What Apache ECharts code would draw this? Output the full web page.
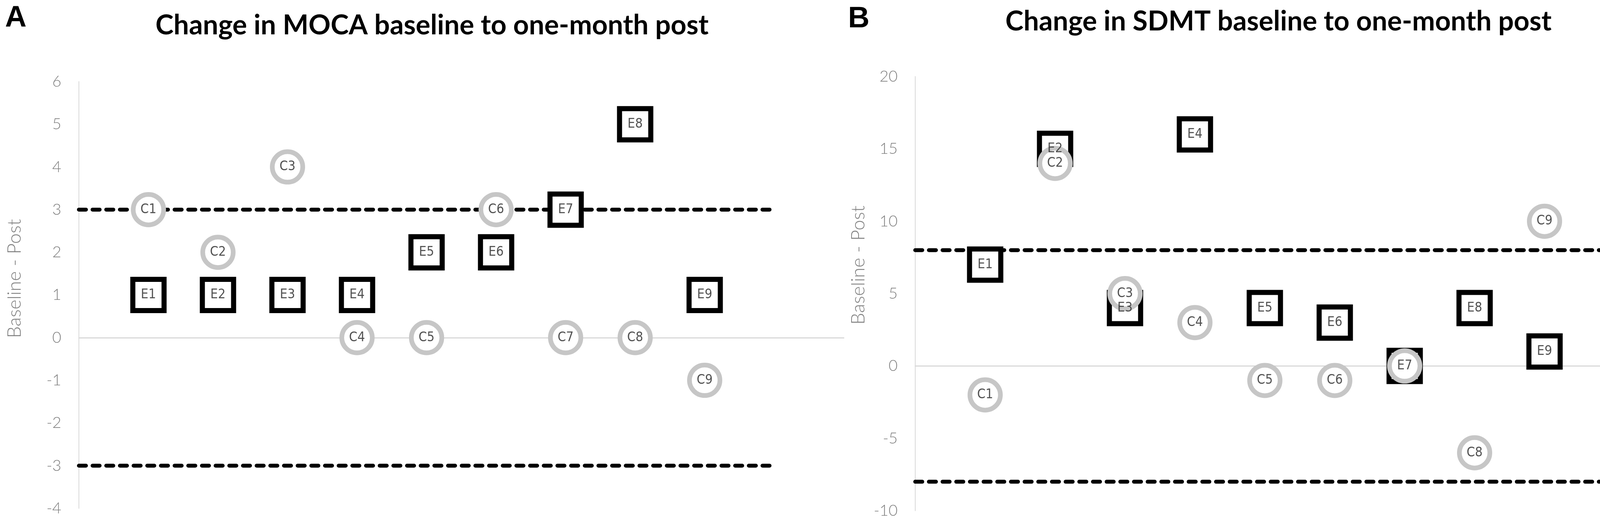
<!DOCTYPE html>
<html>
<head>
<meta charset="utf-8">
<script src="https://cdn.jsdelivr.net/npm/echarts@6/dist/echarts.min.js"></script>
<style>
  html, body { margin: 0; padding: 0; background: #fff; }
  #chart { width: 4317px; height: 1337px; }
</style>
</head>
<body>
<div id="chart"></div>
<script>
// participant index on the x axis (1..9)
const subjects = [1, 2, 3, 4, 5, 6, 7, 8, 9]
const eLabels = ['E1', 'E2', 'E3', 'E4', 'E5', 'E6', 'E7', 'E8', 'E9']
const cLabels = ['C1', 'C2', 'C3', 'C4', 'C5', 'C6', 'C7', 'C8', 'C9']

// MOCA: baseline - post
const mocaE = [1, 1, 1, 1, 2, 2, 3, 5, 1]
const mocaC = [3, 2, 4, 0, 0, 3, 0, 0, -1]
const mocaLimit = 3
const mocaTicks = { min: -4, max: 6, interval: 1 }

// SDMT: baseline - post
const sdmtE = [7, 15, 4, 16, 4, 3, 0, 4, 1]
const sdmtC = [-2, 14, 5, 3, -1, -1, 0, -6, 10]
const sdmtLimit = 8
const sdmtTicks = { min: -10, max: 20, interval: 5 }
// C7 sits exactly under E7 in panel B, only the E7 label shows
const sdmtHiddenC = ['C7']

const limitSpan = [0, 10]
const xRange = { min: 0, max: 11, interval: 1 }

const titles = ['Change in MOCA baseline to one-month post', 'Change in SDMT baseline to one-month post']
const panelLetters = ['A', 'B']
const axisName = 'Baseline - Post'

const light = 'Lato'
const labelFont = 'Liberation Sans Narrow, DejaVu Sans Condensed, sans-serif'

const pts = (xs, ys) => xs.map((x, i) => [x, ys[i]])

// dashed +/- limit lines
function limitSeries(idx, v) {
  return [v, -v].map(val => ({
    type: 'line',
    xAxisIndex: idx, yAxisIndex: idx,
    data: limitSpan.map(x => [x, val]),
    symbol: 'none',
    silent: true,
    z: 1,
    lineStyle: { color: '#000', width: 10, type: [18, 17], cap: 'round' }
  }))
}

function markerSeries(idx, e, c, hidden) {
  return [
    {
      type: 'scatter', xAxisIndex: idx, yAxisIndex: idx,
      data: pts(subjects, e), symbol: 'rect', symbolSize: 80, z: 2,
      itemStyle: { color: '#fff', borderColor: '#000', borderWidth: 13, opacity: 1 }
    },
    {
      type: 'scatter', xAxisIndex: idx, yAxisIndex: idx,
      data: pts(subjects, c), symbol: 'circle', symbolSize: 78, z: 3,
      itemStyle: { color: '#fff', borderColor: '#c6c6c6', borderWidth: 12, opacity: 1 }
    },
    {
      // labels drawn above both marker series
      type: 'scatter', xAxisIndex: idx, yAxisIndex: idx, z: 5, silent: true,
      data: subjects.map((x, i) => ({ value: [x, e[i]], name: eLabels[i] }))
        .concat(subjects.map((x, i) => ({
          value: [x, c[i]], name: cLabels[i],
          label: { show: !hidden.includes(cLabels[i]) }
        }))),
      symbolSize: 2,
      itemStyle: { color: 'rgba(0,0,0,0)' },
      label: {
        show: true, position: 'inside', formatter: p => p.name,
        fontFamily: labelFont, fontSize: 34, color: '#262626'
      }
    }
  ]
}

function yAxis(idx, t, gap, shift) {
  return {
    type: 'value', gridIndex: idx,
    min: t.min, max: t.max, interval: t.interval,
    name: axisName, nameLocation: 'middle', nameGap: gap,
    nameTextStyle: { fontFamily: light, fontWeight: 300, fontSize: 48, color: '#7f7f7f', padding: [0, 0, 0, shift] },
    axisLine: { show: true, onZero: false, lineStyle: { color: '#d9d9d9', width: 2 } },
    axisTick: { show: false },
    splitLine: { show: false },
    axisLabel: { margin: 45, fontFamily: light, fontWeight: 300, fontSize: 40, color: '#7f7f7f' }
  }
}

function xAxis(idx) {
  return {
    type: 'value', gridIndex: idx,
    min: xRange.min, max: xRange.max, interval: xRange.interval,
    axisLine: { show: true, onZero: true, lineStyle: { color: '#d9d9d9', width: 3 } },
    axisTick: { show: false }, axisLabel: { show: false }, splitLine: { show: false }
  }
}

const option = {
  backgroundColor: '#fff',
  animation: false,
  title: [
    { text: panelLetters[0], left: 8, top: 4, textStyle: { fontFamily: 'Liberation Sans', fontWeight: 'bold', fontSize: 76, color: '#000' } },
    { text: panelLetters[1], left: 2166, top: 6, textStyle: { fontFamily: 'Liberation Sans', fontWeight: 'bold', fontSize: 76, color: '#000' } },
    { text: titles[0], left: 1101, top: 25, textAlign: 'center', textStyle: { fontFamily: 'Lato', fontWeight: 'bold', fontSize: 70, color: '#000' } },
    { text: titles[1], left: 3268, top: 15, textAlign: 'center', textStyle: { fontFamily: 'Lato', fontWeight: 'bold', fontSize: 70, color: '#000' } }
  ],
  grid: [
    { left: 202, right: 2157, top: 209, bottom: 35, outerBoundsMode: 'none' },
    { left: 2343, right: 5, top: 196, bottom: 29, outerBoundsMode: 'none' }
  ],
  xAxis: [xAxis(0), xAxis(1)],
  yAxis: [yAxis(0, mocaTicks, 140, 84), yAxis(1, sdmtTicks, 121, 146)],
  series: [
    ...limitSeries(0, mocaLimit),
    ...markerSeries(0, mocaE, mocaC, []),
    ...limitSeries(1, sdmtLimit),
    ...markerSeries(1, sdmtE, sdmtC, sdmtHiddenC)
  ]
}

const chart = echarts.init(document.getElementById('chart'))
chart.setOption(option)
</script>
</body>
</html>
